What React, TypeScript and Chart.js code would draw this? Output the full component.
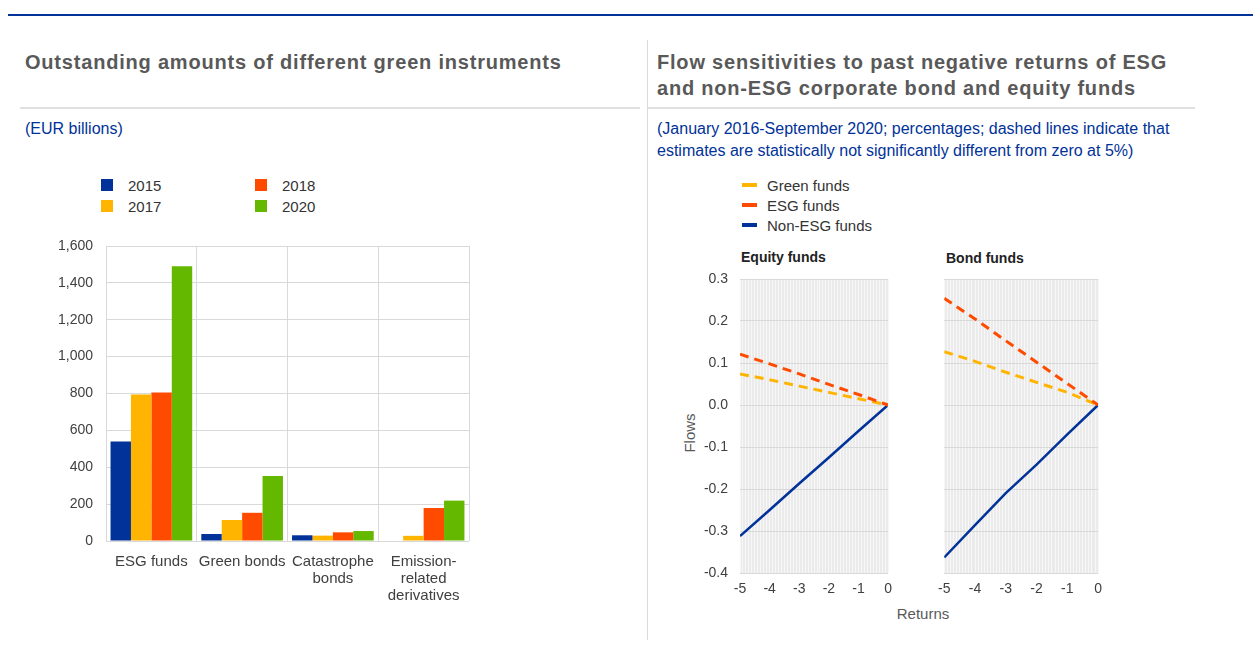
import React, { useEffect, useRef } from "react";
import { Chart, registerables } from "chart.js";

Chart.register(...registerables);

// ---------- Data: left panel (EUR billions) ----------
const categories: string[][] = [
  ["ESG funds"],
  ["Green bonds"],
  ["Catastrophe", "bonds"],
  ["Emission-", "related", "derivatives"],
];
const seriesYears = ["2015", "2017", "2018", "2020"];
const values2015 = [540, 38, 31, null];
const values2017 = [795, 114, 29, 28];
const values2018 = [805, 153, 47, 179];
const values2020 = [1490, 353, 54, 219];
const barColors = ["#003299", "#ffb400", "#ff4b00", "#65b800"];
const barTicks = [0, 200, 400, 600, 800, 1000, 1200, 1400, 1600];

// ---------- Data: right panel (flows vs returns) ----------
const returnsX = [-5, -4, -3, -2, -1, 0];
const equityGreen = [0.074, 0.06, 0.045, 0.03, 0.015, 0];
const equityESG = [0.121, 0.098, 0.074, 0.049, 0.025, 0];
const equityNonESG = [-0.312, -0.25, -0.187, -0.125, -0.062, 0];
const bondGreen = [0.127, 0.104, 0.078, 0.054, 0.03, 0];
const bondESG = [0.254, 0.205, 0.153, 0.102, 0.051, 0];
const bondNonESG = [-0.363, -0.286, -0.21, -0.142, -0.07, 0];
const lineSeriesNames = ["Green funds", "ESG funds", "Non-ESG funds"];
const lineColors = ["#ffb400", "#ff4b00", "#003299"];

const FONT = "Arial, 'Liberation Sans', Helvetica, sans-serif";

const plotBg = {
  id: "plotBg",
  beforeDraw(chart: any, _args: any, opts: any) {
    if (!opts || !opts.color) return;
    const { ctx, chartArea } = chart;
    ctx.save();
    ctx.fillStyle = opts.color;
    ctx.fillRect(chartArea.left, chartArea.top, chartArea.right - chartArea.left, chartArea.bottom - chartArea.top);
    ctx.restore();
  },
};

function Txt(props: { x: number; y: number; children: any; style?: any }) {
  return (
    <div
      style={{
        position: "absolute",
        left: props.x,
        top: props.y,
        transform: "translateY(-50%)",
        whiteSpace: "nowrap",
        fontFamily: FONT,
        ...props.style,
      }}
    >
      {props.children}
    </div>
  );
}

function lineChartConfig(green: number[], esg: number[], nonEsg: number[], yAxisWidth: number, showY: boolean, padTop: number, padRight: number) {
  const toPts = (arr: number[]) => returnsX.map((x, i) => ({ x, y: arr[i] }));
  return {
    type: "line" as const,
    data: {
      datasets: [
        { label: lineSeriesNames[1], data: toPts(esg), borderColor: lineColors[1], borderWidth: 3, borderDash: [9, 6], pointRadius: 0, tension: 0 },
        { label: lineSeriesNames[0], data: toPts(green), borderColor: lineColors[0], borderWidth: 3, borderDash: [9, 6], pointRadius: 0, tension: 0 },
        { label: lineSeriesNames[2], data: toPts(nonEsg), borderColor: lineColors[2], borderWidth: 2.5, pointRadius: 0, tension: 0 },
      ],
    },
    options: {
      responsive: false,
      animation: false as const,
      layout: { padding: { top: padTop, right: padRight, left: 0, bottom: 0 } },
      plugins: { legend: { display: false }, tooltip: { enabled: false }, plotBg: { color: "#ebebeb" } },
      scales: {
        x: {
          type: "linear" as const,
          min: -5,
          max: 0,
          border: { display: false },
          grid: { color: "#f7f7f7", lineWidth: 1, drawTicks: false },
          ticks: {
            stepSize: 0.1,
            autoSkip: false,
            maxRotation: 0,
            padding: 8,
            color: "#404040",
            font: { family: FONT, size: 14 },
            callback: (v: any) => {
              const n = Number(v);
              const r = Math.round(n);
              return Math.abs(n - r) < 1e-6 ? String(r === 0 ? 0 : r) : "";
            },
          },
          afterFit: (s: any) => { s.height = 31; },
        },
        y: {
          min: -0.4,
          max: 0.3,
          border: { display: false },
          grid: { color: "#d9d9d9", lineWidth: 1, drawTicks: false },
          ticks: {
            display: showY,
            stepSize: 0.1,
            padding: 12,
            color: "#404040",
            font: { family: FONT, size: 14, lineHeight: "16px" },
            callback: (v: any) => {
              const n = Number(v);
              return Math.abs(n) < 1e-9 ? "0.0" : n.toFixed(1);
            },
          },
          afterFit: (s: any) => { s.width = yAxisWidth; },
        },
      },
    },
    plugins: [plotBg],
  };
}

export default function App() {
  const barRef = useRef<HTMLCanvasElement>(null);
  const eqRef = useRef<HTMLCanvasElement>(null);
  const bondRef = useRef<HTMLCanvasElement>(null);

  useEffect(() => {
    const seriesVals = [values2015, values2017, values2018, values2020];
    const bar = new Chart(barRef.current!, {
      type: "bar",
      data: {
        labels: categories,
        datasets: seriesYears.map((y, i) => ({
          label: y,
          data: seriesVals[i],
          backgroundColor: barColors[i],
          borderWidth: 0,
          barPercentage: 1,
          categoryPercentage: 0.9,
        })),
      },
      options: {
        responsive: false,
        animation: false,
        layout: { padding: { top: 0, right: 21, left: 0, bottom: 0 } },
        plugins: { legend: { display: false }, tooltip: { enabled: false } },
        scales: {
          x: {
            border: { display: false },
            grid: { color: "#d9d9d9", lineWidth: 1, offset: true, drawTicks: false },
            ticks: {
              autoSkip: false,
              maxRotation: 0,
              padding: 12,
              color: "#404040",
              font: { family: FONT, size: 15, lineHeight: 1.15 },
            },
            afterFit: (s: any) => { s.height = 94; },
          },
          y: {
            min: 0,
            max: 1600,
            border: { display: false },
            grid: { color: "#d9d9d9", lineWidth: 1, drawTicks: false },
            ticks: {
              stepSize: 200,
              padding: 13,
              color: "#404040",
              font: { family: FONT, size: 14, lineHeight: "16px" },
              callback: (v: any) => (barTicks.includes(Number(v)) ? Number(v).toLocaleString("en-US") : ""),
            },
            afterFit: (s: any) => { s.width = 66; },
          },
        },
      },
    } as any);

    const eq = new Chart(eqRef.current!, lineChartConfig(equityGreen, equityESG, equityNonESG, 60, true, 0, 8) as any);
    const bond = new Chart(bondRef.current!, lineChartConfig(bondGreen, bondESG, bondNonESG, 13, false, 20, 7) as any);

    return () => {
      bar.destroy();
      eq.destroy();
      bond.destroy();
    };
  }, []);

  const titleStyle = { fontSize: 20, fontWeight: 700, color: "#595959", letterSpacing: "0.8px" };
  const subStyle = { fontSize: 16, color: "#003299" };
  const legStyle = { fontSize: 15, color: "#333333" };

  return (
    <div style={{ position: "absolute", left: 0, top: 0, width: 1253, height: 660, background: "#ffffff", overflow: "hidden" }}>
      {/* top blue rule */}
      <div style={{ position: "absolute", left: 8, top: 14, width: 1245, height: 2, background: "#003299" }} />
      {/* separators */}
      <div style={{ position: "absolute", left: 20, top: 107, width: 620, height: 2, background: "#e0e0e0" }} />
      <div style={{ position: "absolute", left: 648, top: 107, width: 547, height: 2, background: "#e0e0e0" }} />
      <div style={{ position: "absolute", left: 647, top: 40, width: 1, height: 600, background: "#d9d9d9" }} />

      {/* left panel headings */}
      <Txt x={25} y={62} style={titleStyle}>Outstanding amounts of different green instruments</Txt>
      <Txt x={25} y={129} style={subStyle}>(EUR billions)</Txt>

      {/* right panel headings */}
      <Txt x={657} y={62} style={titleStyle}>Flow sensitivities to past negative returns of ESG</Txt>
      <Txt x={657} y={88} style={titleStyle}>and non-ESG corporate bond and equity funds</Txt>
      <Txt x={657} y={129} style={subStyle}>(January 2016-September 2020; percentages; dashed lines indicate that</Txt>
      <Txt x={657} y={151} style={subStyle}>estimates are statistically not significantly different from zero at 5%)</Txt>

      {/* bar legend (2 columns) */}
      {seriesYears.map((y, i) => {
        const col = i < 2 ? 0 : 1;
        const row = i % 2;
        const bx = col === 0 ? 101 : 255;
        const cy = row === 0 ? 185 : 206;
        return (
          <React.Fragment key={y}>
            <div style={{ position: "absolute", left: bx, top: cy - 6, width: 12, height: 12, background: barColors[i] }} />
            <Txt x={bx + 27} y={cy} style={legStyle}>{y}</Txt>
          </React.Fragment>
        );
      })}

      {/* line legend */}
      {lineSeriesNames.map((n, i) => {
        const cy = [185, 205, 225][i];
        return (
          <React.Fragment key={n}>
            <div style={{ position: "absolute", left: 742, top: cy - 2, width: 15, height: 4, background: lineColors[i] }} />
            <Txt x={767} y={cy} style={legStyle}>{n}</Txt>
          </React.Fragment>
        );
      })}

      <Txt x={741} y={257} style={{ fontSize: 14, fontWeight: 700, color: "#222222" }}>Equity funds</Txt>
      <Txt x={946} y={258} style={{ fontSize: 14, fontWeight: 700, color: "#222222" }}>Bond funds</Txt>

      <div
        style={{
          position: "absolute",
          left: 689,
          top: 433,
          transform: "translate(-50%, -50%) rotate(-90deg)",
          fontFamily: FONT,
          fontSize: 15,
          color: "#595959",
          whiteSpace: "nowrap",
        }}
      >
        Flows
      </div>
      <div
        style={{
          position: "absolute",
          left: 923,
          top: 613,
          transform: "translate(-50%, -50%)",
          fontFamily: FONT,
          fontSize: 15,
          color: "#595959",
          whiteSpace: "nowrap",
        }}
      >
        Returns
      </div>

      <canvas ref={barRef} width={450} height={410} style={{ position: "absolute", left: 40, top: 225 }} />
      <canvas ref={eqRef} width={220} height={345} style={{ position: "absolute", left: 680, top: 259 }} />
      <canvas ref={bondRef} width={180} height={345} style={{ position: "absolute", left: 930, top: 259 }} />
    </div>
  );
}
